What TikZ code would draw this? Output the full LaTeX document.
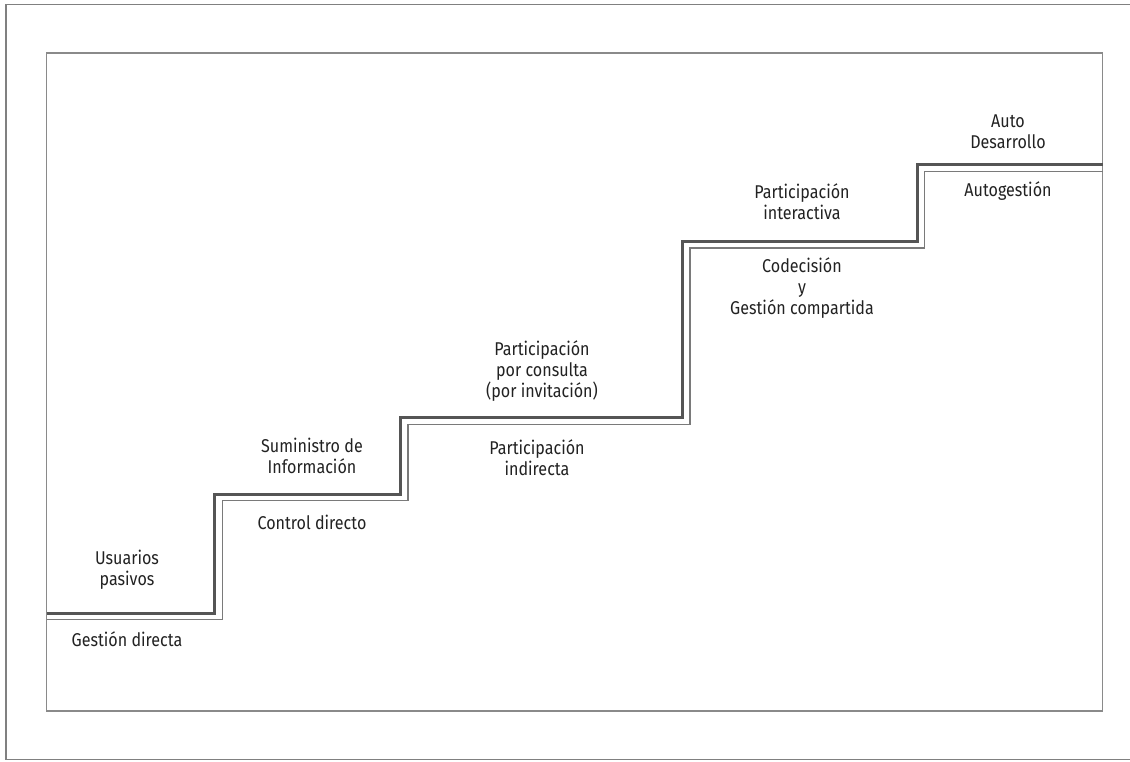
\documentclass[tikz,border=0pt]{standalone}
\usepackage{fontspec}
\setmainfont[FakeStretch=0.87]{Fira Sans}
\definecolor{darkstair}{HTML}{555555}
\definecolor{lightstair}{HTML}{7A7A7A}
\definecolor{framegray}{HTML}{8A8A8A}
\definecolor{txt}{HTML}{222222}
\begin{document}
\begin{tikzpicture}[x=1pt,y=-1pt,
  lbl/.style={align=center,text=txt,font=\fontsize{18.5}{21}\selectfont,inner sep=0pt},
  darkline/.style={draw=darkstair,line width=3pt,line join=miter},
  lightline/.style={draw=lightstair,line width=1.8pt,line join=miter},
  frameline/.style={draw=framegray,line width=1.2pt}]
\useasboundingbox (0,0) rectangle (1130,761);
\fill[white] (0,0) rectangle (1130,761);
% outer frame (partially outside)
\draw[frameline,draw=gray] (1140,4.5) -- (6,4.5) -- (6,759.5) -- (1140,759.5);
% inner frame
\draw[frameline] (46.5,53) rectangle (1102.5,711);
% stairs
\draw[darkline] (46.5,613) -- (214,613) -- (214,494) -- (400,494) -- (400,417) -- (682,417) -- (682,241) -- (917,241) -- (917,164) -- (1102.5,164);
\draw[lightline] (46.5,619.5) -- (222.5,619.5) -- (222.5,500.5) -- (408,500.5) -- (408,424.5) -- (690,424.5) -- (690,248) -- (924.5,248) -- (924.5,171.5) -- (1102.5,171.5);
% labels
\node[lbl] (usu) at (127,570) {Usuarios\\pasivos};
\node[lbl] (ges) at (127,639) {Gestión directa};
\node[lbl] (sum) at (312,456) {Suministro de\\Información};
\node[lbl] (con) at (312,522) {Control directo};
\node[lbl] (pcon) at (542,371) {Participación\\por consulta\\(por invitación)};
\node[lbl] (pind) at (537,458) {Participación\\indirecta};
\node[lbl] (pint) at (802,202) {Participación\\interactiva};
\node[lbl] (cod) at (802,288) {Codecisión\\y\\Gestión compartida};
\node[lbl] (auto) at (1008,132) {Auto\\Desarrollo};
\node[lbl] (autog) at (1008,191) {Autogestión};
\end{tikzpicture}
\end{document}
